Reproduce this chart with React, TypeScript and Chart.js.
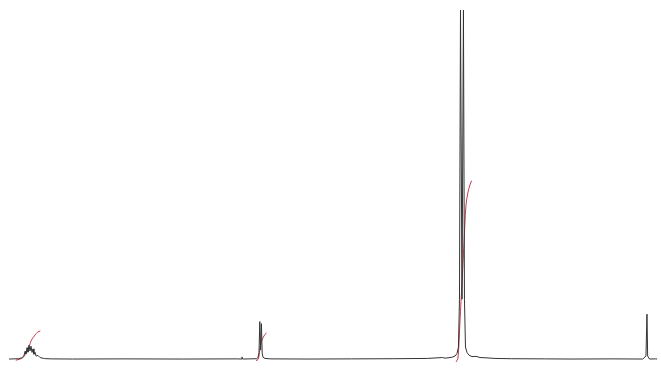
import React, { useEffect, useRef } from "react";
import { Chart, registerables } from "chart.js";

Chart.register(...registerables);

// Spectrum: chemical shift (ppm) and intensity
const specPpm = [
  7.55, 7.44, 7.40, 7.375, 7.36, 7.35, 7.337, 7.326, 7.314, 7.302, 7.29, 7.278, 7.266, 7.255, 7.243, 7.23, 7.207, 7.183, 7.13, 7.05,
  6.8, 6.2, 5.5, 4.85, 4.80, 4.793, 4.785, 4.70,
  4.62, 4.604, 4.592, 4.582, 4.573, 4.563, 4.554, 4.544, 4.521, 4.45, 4.0, 3.5, 3.0, 2.6, 2.42, 2.39,
  2.355, 2.308, 2.272, 2.249, 2.231, 2.219, 2.207, 2.189, 2.172, 2.160, 2.148, 2.130, 2.107, 2.071, 2.024,
  1.976, 1.905, 1.799, 1.60, 1.20, 0.9, 0.4, 0.05, 0.012, 0.0, -0.008, -0.03, -0.1, -0.12,
];
const specInt = [
  0.0, 0.1, 0.4, 1.0, 2.6, 1.7, 3.8, 2.3, 4.6, 2.7, 4.3, 2.2, 3.4, 1.6, 2.3, 1.0, 1.2, 0.5, 0.15, 0.05,
  0.0, 0.05, 0.0, 0.05, 0.0, 0.7, 0.0, 0.05,
  0.1, 0.5, 2.0, 12.5, 3.0, 11.8, 2.0, 0.6, 0.2, 0.05, 0.0, 0.05, 0.1, 0.2, 0.5, 0.3,
  0.4, 0.6, 1.0, 1.8, 4.0, 20.0, 116.6, 20.0, 116.6, 20.0, 4.0, 2.2, 1.3, 0.8, 0.9,
  0.5, 0.4, 0.2, 0.1, 0.05, 0.0, 0.05, 0.0, 1.0, 15.0, 1.0, 0.0, 0.05, 0.0,
];

// Integral curves
const int1Ppm = [7.47, 7.42, 7.38, 7.35, 7.32, 7.30, 7.28, 7.25, 7.23, 7.21, 7.18];
const int1Val = [-0.4, 0.0, 0.6, 2.0, 3.6, 5.2, 6.6, 7.7, 8.5, 9.0, 9.4];
const int2Ppm = [4.627, 4.604, 4.592, 4.58, 4.568, 4.556, 4.533, 4.503];
const int2Val = [-0.5, -0.2, 1.0, 3.5, 5.5, 6.4, 7.7, 8.8];
const int3Ppm = [2.26, 2.237, 2.213, 2.189, 2.166, 2.142, 2.118, 2.095, 2.077, 2.071];
const int3Val = [-1.0, 0.3, 12.7, 25.7, 38.4, 51.5, 55.8, 58.2, 59.5, 59.6];

const xMin = -0.166;
const xMax = 7.657;
const yMin = -4;
const yMax = 120;

const toPoints = (xs: number[], ys: number[]) => xs.map((x, i) => ({ x, y: ys[i] }));

export default function App() {
  const ref = useRef<HTMLCanvasElement | null>(null);
  useEffect(() => {
    if (!ref.current) return;
    const integral = (xs: number[], ys: number[]) => ({
      data: toPoints(xs, ys),
      borderColor: "#c23b48",
      borderWidth: 1,
      pointRadius: 0,
      tension: 0.3,
    });
    const chart = new Chart(ref.current, {
      type: "line",
      data: {
        datasets: [
          {
            data: toPoints(specPpm, specInt),
            borderColor: "#333333",
            borderWidth: 1,
            pointRadius: 0,
            tension: 0,
          },
          integral(int1Ppm, int1Val),
          integral(int2Ppm, int2Val),
          integral(int3Ppm, int3Val),
        ],
      },
      options: {
        animation: false,
        responsive: false,
        maintainAspectRatio: false,
        layout: { padding: 0 },
        plugins: { legend: { display: false }, tooltip: { enabled: false } },
        scales: {
          x: { type: "linear", reverse: true, min: xMin, max: xMax, display: false },
          y: { type: "linear", min: yMin, max: yMax, display: false },
        },
      },
    });
    return () => chart.destroy();
  }, []);
  return (
    <div style={{ position: "absolute", left: 0, top: 0, width: 661, height: 371, background: "#fff" }}>
      <canvas ref={ref} width={661} height={371} />
    </div>
  );
}
